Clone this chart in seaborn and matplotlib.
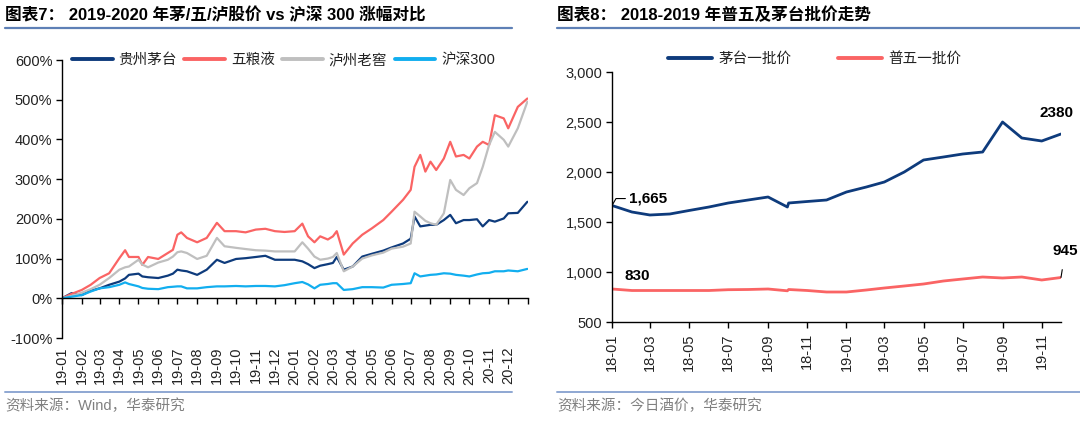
import matplotlib
matplotlib.use('Agg')
import matplotlib.pyplot as plt
import matplotlib.ticker as mticker
from matplotlib.lines import Line2D
import pandas as pd
import seaborn as sns

# ---------------- Left chart data (cumulative % change) ----------------
left_dates = [
    '2019-01-01', '2019-01-16', '2019-02-01', '2019-02-15', '2019-03-01', '2019-03-16',
    '2019-04-01', '2019-04-10', '2019-04-16', '2019-05-01', '2019-05-07', '2019-05-16',
    '2019-06-01', '2019-06-16', '2019-06-24', '2019-07-01', '2019-07-07', '2019-07-16',
    '2019-08-01', '2019-08-16', '2019-09-01', '2019-09-13', '2019-10-01', '2019-10-16',
    '2019-11-01', '2019-11-16', '2019-12-01', '2019-12-16', '2020-01-01', '2020-01-13',
    '2020-01-22', '2020-02-01', '2020-02-10', '2020-02-22', '2020-03-01', '2020-03-07',
    '2020-03-18', '2020-04-01', '2020-04-16', '2020-05-01', '2020-05-19', '2020-06-01',
    '2020-06-19', '2020-07-01', '2020-07-07', '2020-07-16', '2020-07-24', '2020-08-01',
    '2020-08-10', '2020-08-22', '2020-09-01', '2020-09-10', '2020-09-22', '2020-10-01',
    '2020-10-13', '2020-10-22', '2020-11-01', '2020-11-10', '2020-11-24', '2020-12-01',
    '2020-12-16', '2020-12-31']
moutai = [0, 13, 8, 19, 25, 34, 42, 50, 59, 62,
          55, 53, 51, 57, 62, 72, 70, 68, 59, 72,
          97, 89, 99, 101, 104, 107, 97, 97, 97, 93,
          86, 76, 82, 86, 89, 104, 72, 80, 105, 112,
          120, 128, 138, 150, 206, 181, 183, 185, 185, 197,
          210, 189, 197, 197, 199, 181, 197, 193, 201, 214,
          215, 243]
wuliangye = [0, 11, 21, 34, 51, 63, 101, 121, 104, 104,
             84, 104, 99, 114, 122, 160, 166, 152, 141, 152,
             190, 169, 169, 166, 173, 175, 169, 167, 169, 188,
             156, 141, 156, 148, 156, 169, 110, 138, 160, 176,
             197, 218, 248, 273, 331, 361, 319, 344, 323, 352,
             394, 357, 361, 352, 382, 394, 386, 461, 453, 428,
             482, 503]
luzhou = [0, 6, 14, 23, 34, 51, 72, 78, 80, 97,
          85, 78, 90, 97, 105, 116, 118, 114, 99, 107,
          152, 131, 127, 124, 121, 120, 118, 118, 118, 141,
          125, 105, 97, 100, 104, 114, 68, 80, 100, 108,
          115, 125, 130, 138, 218, 206, 195, 189, 185, 214,
          298, 273, 260, 277, 290, 331, 386, 419, 399, 382,
          428, 495]
hs300 = [0, 4, 8, 17, 25, 28, 34, 40, 36, 30,
         26, 24, 23, 28, 29, 30, 30, 25, 25, 28,
         30, 30, 31, 30, 31, 31, 30, 33, 38, 41,
         35, 25, 34, 36, 38, 38, 21, 23, 28, 28,
         27, 34, 36, 38, 63, 55, 57, 59, 60, 63,
         62, 59, 57, 55, 60, 63, 64, 68, 68, 70,
         68, 74]
left_names = ['贵州茅台', '五粮液', '泸州老窖', '沪深300']
left_colors = ['#0E3B7C', '#FA6464', '#BFBFBF', '#12AEEF']
left_xticks = [
    '2019-01-01', '2019-02-01', '2019-03-01', '2019-04-01', '2019-05-01', '2019-06-01',
    '2019-07-01', '2019-08-01', '2019-09-01', '2019-10-01', '2019-11-01', '2019-12-01',
    '2020-01-01', '2020-02-01', '2020-03-01', '2020-04-01', '2020-05-01', '2020-06-01',
    '2020-07-01', '2020-08-01', '2020-09-01', '2020-10-01', '2020-11-01', '2020-12-01',
    '2021-01-01']
left_xlabels = ['19-01', '19-02', '19-03', '19-04', '19-05', '19-06', '19-07', '19-08',
                '19-09', '19-10', '19-11', '19-12', '20-01', '20-02', '20-03', '20-04',
                '20-05', '20-06', '20-07', '20-08', '20-09', '20-10', '20-11', '20-12', '']
left_yticks = [-100, 0, 100, 200, 300, 400, 500, 600]

# ---------------- Right chart data (wholesale prices) ----------------
right_dates = ['2018-01-01', '2018-02-01', '2018-03-01', '2018-04-01', '2018-05-01',
               '2018-06-01', '2018-07-01', '2018-08-01', '2018-09-01', '2018-10-01',
               '2018-10-03', '2018-11-01', '2018-12-01', '2019-01-01', '2019-02-01',
               '2019-03-01', '2019-04-01', '2019-05-01', '2019-06-01', '2019-07-01',
               '2019-08-01', '2019-09-01', '2019-10-01', '2019-11-01', '2019-12-01']
moutai_price = [1665, 1600, 1570, 1580, 1615, 1650, 1690, 1720, 1750, 1650,
                1690, 1705, 1720, 1800, 1850, 1900, 2000, 2120, 2150, 2180,
                2200, 2500, 2340, 2310, 2380]
wuliangye_price = [830, 815, 815, 815, 815, 815, 823, 825, 830, 812,
                   825, 815, 800, 800, 820, 840, 860, 880, 910, 930,
                   950, 940, 950, 920, 945]
right_names = ['茅台一批价', '普五一批价']
right_colors = ['#0E3B7C', '#FA6464']
right_xticks = ['2018-01-01', '2018-03-01', '2018-05-01', '2018-07-01', '2018-09-01',
                '2018-11-01', '2019-01-01', '2019-03-01', '2019-05-01', '2019-07-01',
                '2019-09-01', '2019-11-01']
right_xlabels = ['18-01', '18-03', '18-05', '18-07', '18-09', '18-11',
                 '19-01', '19-03', '19-05', '19-07', '19-09', '19-11']
right_yticks = [500, 1000, 1500, 2000, 2500, 3000]

# ---------------- Style ----------------
sns.set_theme(style='white')
plt.rcParams['font.family'] = ['Liberation Sans', 'Noto Sans CJK SC', 'DejaVu Sans']
plt.rcParams['axes.unicode_minus'] = False

W, H = 1080, 424
fig = plt.figure(figsize=(W / 100, H / 100), dpi=100)

def fx(px):
    return px / W

def fy(py):
    return 1 - py / H

TICK_FS = 10.5
TXT = '#222222'

# ---------------- Left chart ----------------
axL = fig.add_axes([fx(62), fy(338), fx(528 - 62), (338 - 60) / H])
dfL = pd.DataFrame({'date': pd.to_datetime(left_dates)})
for n, v in zip(left_names, [moutai, wuliangye, luzhou, hs300]):
    dfL[n] = v
longL = dfL.melt(id_vars='date', var_name='series', value_name='pct')
sns.lineplot(data=longL, x='date', y='pct', hue='series', hue_order=left_names,
             palette=left_colors, linewidth=1.6, ax=axL, legend=False)
axL.set_xlim(pd.Timestamp(left_xticks[0]), pd.Timestamp(left_xticks[-1]))
axL.set_ylim(left_yticks[0], left_yticks[-1])
axL.set_yticks(left_yticks)
axL.yaxis.set_major_formatter(mticker.PercentFormatter(xmax=100, decimals=0))
axL.set_xticks(pd.to_datetime(left_xticks))
axL.set_xticklabels(left_xlabels)
axL.spines['bottom'].set_position(('data', 0))
for s in ['top', 'right']:
    axL.spines[s].set_visible(False)
for s in ['left', 'bottom']:
    axL.spines[s].set_color('black')
    axL.spines[s].set_linewidth(1.0)
axL.tick_params(axis='y', direction='out', length=4, width=1, color='black',
                labelsize=TICK_FS, labelcolor=TXT, pad=3, left=True)
axL.tick_params(axis='x', direction='out', length=4, width=1, color='black',
                labelsize=TICK_FS, labelcolor=TXT, pad=31, labelrotation=90, bottom=True)
axL.set_xlabel('')
axL.set_ylabel('')
hL = [Line2D([0], [0], color=c, lw=2.8) for c in left_colors]
axL.legend(hL, left_names, loc='center left', bbox_to_anchor=(fx(66), fy(60)),
           bbox_transform=fig.transFigure, ncol=4, frameon=False, fontsize=10.5,
           handlelength=2.8, handletextpad=0.4, columnspacing=0.5, labelcolor=TXT,
           borderaxespad=0)

# ---------------- Right chart ----------------
axR = fig.add_axes([fx(612), fy(322), fx(1061 - 612), (322 - 72) / H])
dfR = pd.DataFrame({'date': pd.to_datetime(right_dates)})
for n, v in zip(right_names, [moutai_price, wuliangye_price]):
    dfR[n] = v
longR = dfR.melt(id_vars='date', var_name='series', value_name='price')
sns.lineplot(data=longR, x='date', y='price', hue='series', hue_order=right_names,
             palette=right_colors, linewidth=2.0, ax=axR, legend=False)
axR.set_xlim(pd.Timestamp(right_dates[0]), pd.Timestamp(right_dates[-1]))
axR.set_ylim(right_yticks[0], right_yticks[-1])
axR.set_yticks(right_yticks)
axR.yaxis.set_major_formatter(mticker.StrMethodFormatter('{x:,.0f}'))
axR.set_xticks(pd.to_datetime(right_xticks))
axR.set_xticklabels(right_xlabels)
for s in ['top', 'right']:
    axR.spines[s].set_visible(False)
for s in ['left', 'bottom']:
    axR.spines[s].set_color('black')
    axR.spines[s].set_linewidth(1.0)
axR.tick_params(axis='y', direction='out', length=4, width=1, color='black',
                labelsize=TICK_FS, labelcolor=TXT, pad=3, left=True)
axR.tick_params(axis='x', direction='out', length=4, width=1, color='black',
                labelsize=TICK_FS, labelcolor=TXT, pad=4, labelrotation=90, bottom=True)
axR.set_xlabel('')
axR.set_ylabel('')
hR = [Line2D([0], [0], color=c, lw=2.8) for c in right_colors]
axR.legend(hR, right_names, loc='center', bbox_to_anchor=(fx(815), fy(59)),
           bbox_transform=fig.transFigure, ncol=2, frameon=False, fontsize=10.5,
           handlelength=3.0, handletextpad=0.45, columnspacing=3.2, labelcolor=TXT)

# data labels
d0 = pd.Timestamp(right_dates[0])
d1 = pd.Timestamp(right_dates[-1])
axR.annotate(f'{moutai_price[0]:,}', xy=(d0, moutai_price[0]),
             xytext=(12, 5), textcoords='offset points', fontsize=11, fontweight='bold',
             color='black', va='center', ha='left',
             arrowprops=dict(arrowstyle='-', color='black', lw=0.8,
                             connectionstyle='angle,angleA=0,angleB=60,rad=0',
                             shrinkA=0, shrinkB=1))
axR.annotate(f'{moutai_price[-1]}', xy=(d1, moutai_price[-1]),
             xytext=(-3, 15), textcoords='offset points', fontsize=11, fontweight='bold',
             color='black', va='center', ha='center')
axR.annotate(f'{wuliangye_price[0]}', xy=(d0, wuliangye_price[0]),
             xytext=(18, 9), textcoords='offset points', fontsize=11, fontweight='bold',
             color='black', va='center', ha='center')
axR.annotate(f'{wuliangye_price[-1]}', xy=(d1, wuliangye_price[-1]),
             xytext=(3, 19), textcoords='offset points', fontsize=11, fontweight='bold',
             color='black', va='center', ha='center',
             arrowprops=dict(arrowstyle='-', color='black', lw=0.8, shrinkA=6, shrinkB=0))

# ---------------- Titles, rules, sources ----------------
fig.text(fx(5), fy(15), '图表7： 2019-2020 年茅/五/泸股价 vs 沪深 300 涨幅对比',
         fontsize=12, fontweight='bold', color='black', va='center', ha='left')
fig.text(fx(557), fy(15), '图表8： 2018-2019 年普五及茅台批价走势',
         fontsize=12, fontweight='bold', color='black', va='center', ha='left')
fig.add_artist(Line2D([fx(5), fx(512)], [fy(28), fy(28)], color='#5E80B6', lw=1.6))
fig.add_artist(Line2D([fx(557), fx(1080)], [fy(28), fy(28)], color='#5E80B6', lw=1.6))
fig.add_artist(Line2D([fx(5), fx(512)], [fy(392), fy(392)], color='#8EA7D2', lw=1.4))
fig.add_artist(Line2D([fx(557), fx(1080)], [fy(392), fy(392)], color='#8EA7D2', lw=1.4))
fig.text(fx(5), fy(406), '资料来源：Wind，华泰研究', fontsize=10.5, color='#808080',
         va='center', ha='left')
fig.text(fx(557), fy(406), '资料来源：今日酒价，华泰研究', fontsize=10.5, color='#808080',
         va='center', ha='left')

fig.savefig('out.png', dpi=100)
